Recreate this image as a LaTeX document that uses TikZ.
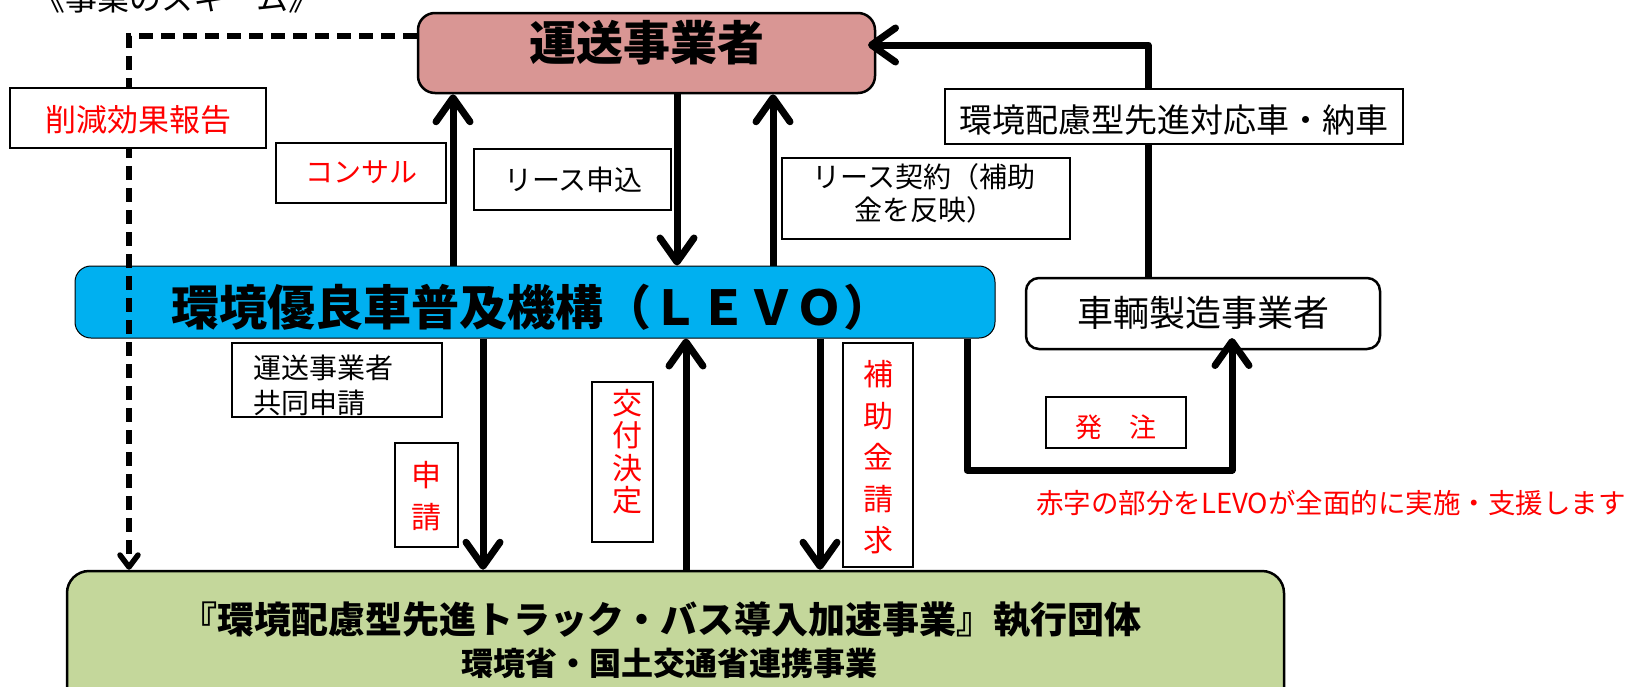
\documentclass[tikz,border=0pt]{standalone}
\usepackage{fontspec}
\setmainfont{Noto Sans CJK JP}
\usetikzlibrary{arrows.meta,calc}
\definecolor{unsopink}{HTML}{D99694}
\definecolor{levoblue}{HTML}{00B0F0}
\definecolor{greenbox}{HTML}{C4D79B}
\definecolor{redtxt}{HTML}{FF0000}
\newcommand{\jfs}[2]{\fontsize{#1}{#2}\selectfont}
\begin{document}
\begin{tikzpicture}[x=1pt,y=-1pt,
  mainbox/.style={draw=black, line width=2.5pt, inner sep=0pt},
  lbl/.style={draw=black, line width=1.6pt, fill=white, inner sep=0pt},
  txt/.style={inner sep=0pt, align=center},
  redt/.style={txt, text=redtxt},
  arr/.style={line width=7pt, line join=round, -{Straight Barb[length=24pt,width=34pt,round]}},
  dasharr/.style={line width=5.5pt, dash pattern=on 14pt off 8pt, -{Straight Barb[length=12pt,width=18pt,round]}},
]
\useasboundingbox (0,0) rectangle (1625,686);

% title (cut at the top)
\node[txt, font=\jfs{32}{32}] (title) at (177,-2) {《事業のスキーム》};

% main boxes
\node[mainbox, fill=unsopink, rounded corners=17pt, minimum width=457pt, minimum height=80pt] (unso) at (646.5,53) {};
\node[draw=black, line width=1pt, fill=levoblue, rounded corners=16pt, minimum width=920pt, minimum height=72pt, inner sep=0pt] (levo) at (535,302) {};
\node[mainbox, fill=greenbox, rounded corners=22pt, minimum width=1217pt, minimum height=149pt] (dantai) at (675.5,645.5) {};
\node[mainbox, fill=white, rounded corners=13pt, minimum width=354pt, minimum height=71pt] (seizo) at (1203,313.5) {};

\coordinate (unsoin) at (868,45);
\coordinate (seizoin) at (1232,338);

% connectors
\draw[arr] (453,0 |- levo.north) -- (453,0 |- unso.south);
\draw[arr] (677,0 |- unso.south) -- (677,0 |- levo.north);
\draw[arr] (773,0 |- levo.north) -- (773,0 |- unso.south);
\draw[arr] (483,0 |- levo.south) -- (483,0 |- dantai.north);
\draw[arr] (686,0 |- dantai.north) -- (686,0 |- levo.south);
\draw[arr] (820,0 |- levo.south) -- (820,0 |- dantai.north);
\draw[arr] (967,0 |- levo.south) -- (967,470) -- (1232,470) -- (seizoin);
\draw[arr] (1148,0 |- seizo.north) -- (1148,45) -- (unsoin);
\draw[dasharr] (unso.west |- 0,36) -- (129,36) -- (129,0 |- dantai.north);

% label boxes
\node[lbl, minimum width=256pt, minimum height=60pt] (sakugen) at (138,118) {};
\node[lbl, minimum width=170pt, minimum height=60pt] (consul) at (361,173) {};
\node[lbl, minimum width=197pt, minimum height=61pt] (lease1) at (572.5,179.5) {};
\node[lbl, minimum width=288pt, minimum height=81pt] (lease2) at (926,198.5) {};
\node[lbl, minimum width=458pt, minimum height=55pt] (nosha) at (1174,116.5) {};
\node[lbl, minimum width=210pt, minimum height=74pt] (kyodo) at (337,380) {};
\node[lbl, minimum width=63pt, minimum height=104pt] (shinsei) at (426.5,495) {};
\node[lbl, minimum width=61pt, minimum height=160pt] (kofu) at (622.5,462) {};
\node[lbl, minimum width=70pt, minimum height=224pt] (hojo) at (878,455) {};
\node[lbl, minimum width=140pt, minimum height=51pt] (hachu) at (1116,422.5) {};

% texts
\node[txt, font=\jfs{47}{47}\bfseries] (unsot) at (646.5,43) {運送事業者};
\node[txt, font=\jfs{48}{48}\bfseries] (levot) at (531,307) {環境優良車普及機構（ＬＥＶＯ）};
\node[txt, font=\jfs{37}{37}\bfseries] (dantai1) at (661,620) {『環境配慮型先進トラック・バス導入加速事業』執行団体};
\node[txt, font=\jfs{32}{32}\bfseries] (dantai2) at (669.5,663) {環境省・国土交通省連携事業};
\node[txt, font=\jfs{36}{36}] (seizot) at (1203,313) {車輌製造事業者};

\node[redt, font=\jfs{31}{31}] (sakugent) at (138,120) {削減効果報告};
\node[redt, font=\jfs{28}{28}] (consult) at (361.5,172) {コンサル};
\node[txt, font=\jfs{28}{28}] (lease1t) at (573.5,180) {リース申込};
\node[txt, font=\jfs{28}{33}] (lease2t) at (924,193.5) {リース契約（補助\\金を反映）};
\node[txt, font=\jfs{33}{33}] (noshat) at (1174,120) {環境配慮型先進対応車・納車};
\node[txt, align=left, anchor=west, font=\jfs{28}{35}] (kyodot) at (253,385.5) {運送事業者\\共同申請};
\node[redt, font=\jfs{30}{42}] (shinseit) at (426.5,496) {申\\請};
\node[redt, font=\jfs{30}{32.5}] (kofut) at (627,451.5) {交\\付\\決\\定};
\node[redt, font=\jfs{30}{41.5}] (hojot) at (878,457.5) {補\\助\\金\\請\\求};
\node[redt, font=\jfs{27}{27}] (hachut) at (1116,427) {発　注};
\node[redt, font=\jfs{27.5}{27.5}] (note) at (1331,503) {赤字の部分をLEVOが全面的に実施・支援します};
\end{tikzpicture}
\end{document}
